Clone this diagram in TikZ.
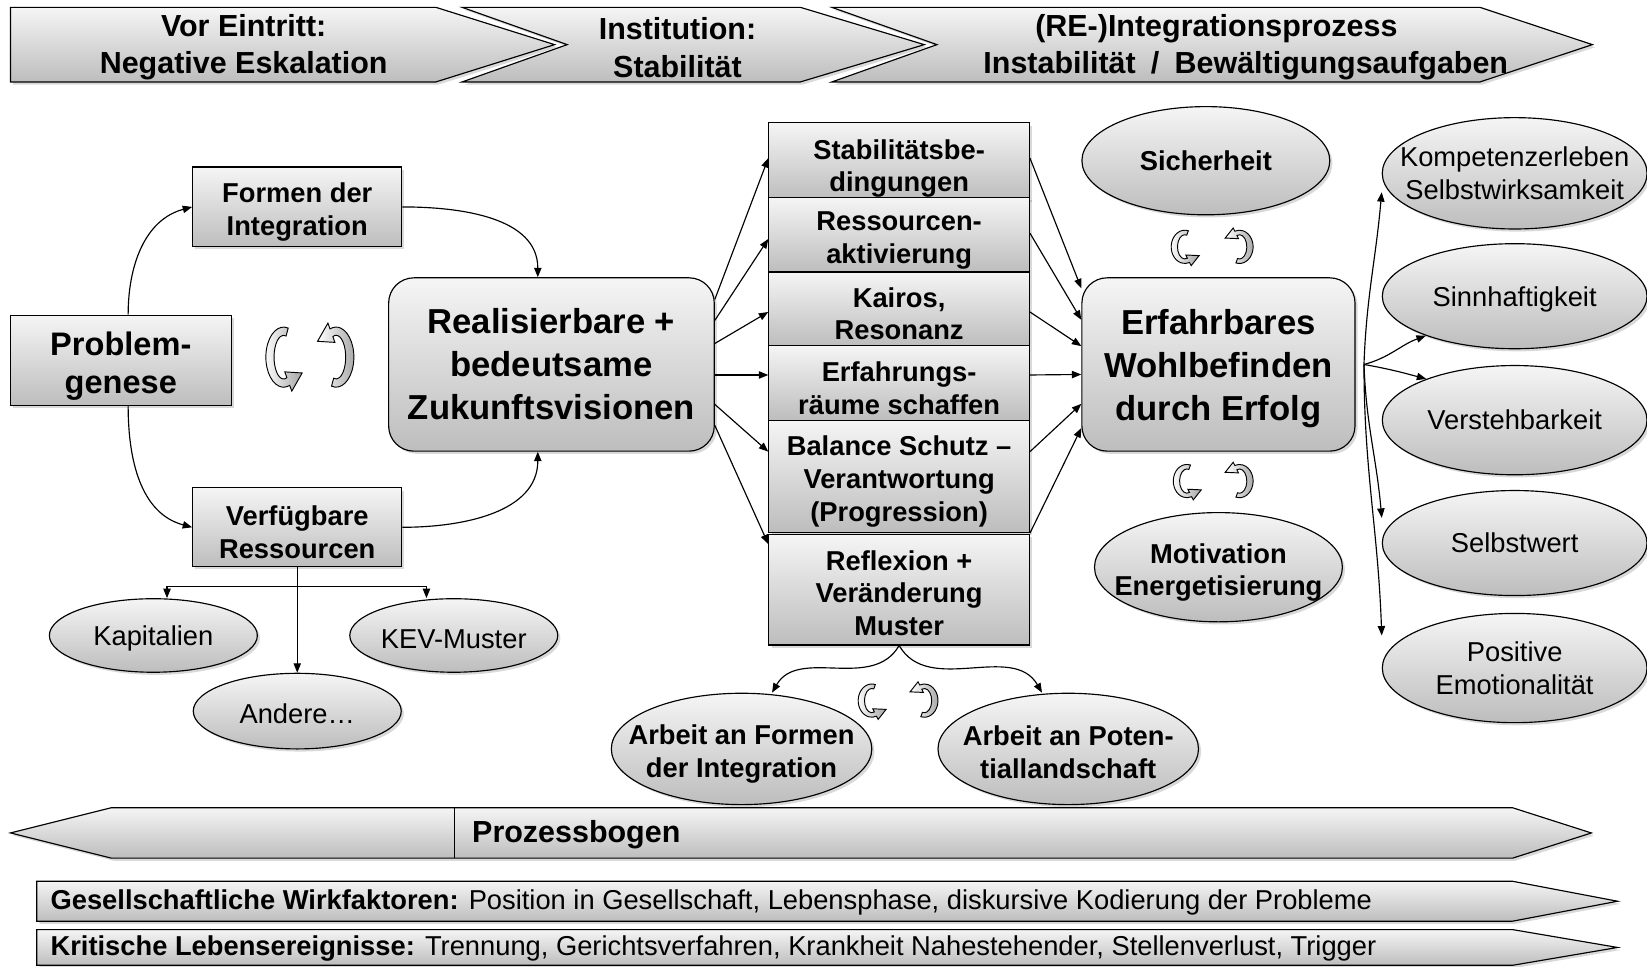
\documentclass[tikz,border=0pt]{standalone}
\usepackage{fontspec}
\setmainfont{Liberation Sans}
\usepackage{tikz}
\usetikzlibrary{shapes, arrows.meta, shadows}
\definecolor{shtop}{HTML}{F5F5F5}
\definecolor{shbot}{HTML}{BDBDBD}
\newcommand\hoch[1][1.1em]{\rule{0pt}{#1}}

\begin{document}
\begin{tikzpicture}[x=1pt, y=1pt,
    grayfill/.style={top color=shtop, bottom color=shbot},
    shadowed/.style={drop shadow={opacity=0.3, shadow xshift=2.5pt, shadow yshift=-2.5pt}},
    box/.style={draw, line width=1.1pt, grayfill, shadowed, align=center, inner sep=2pt, font=\fontsize{26}{31}\selectfont\bfseries},
    bigbox/.style={box, rounded corners=24pt, font=\fontsize{33}{41}\selectfont\bfseries},
    oval/.style={box, ellipse, inner xsep=-20pt, inner ysep=0pt, font=\fontsize{26}{32}\selectfont},
    boldoval/.style={oval, font=\fontsize{26}{31}\selectfont\bfseries},
    chev/.style={draw, line width=1.1pt, grayfill, shadowed},
    headtext/.style={align=center, font=\fontsize{29}{36}\selectfont\bfseries},
    bartext/.style={anchor=west, inner sep=0pt, font=\fontsize{26}{30}\selectfont},
    link/.style={-{Triangle[length=9pt, width=7pt]}, line width=1.1pt},
    twolink/.style={{Triangle[length=9pt, width=7pt]}-{Triangle[length=9pt, width=7pt]}, line width=1.1pt},
    swirl/.pic={
      \draw[line width=0.9pt, left color=white, right color=gray!70]
        (75:13 and 22) arc[start angle=75, end angle=290, x radius=13, y radius=22]
        -- (6,-24.9) -- (13.6,-11.6) -- (0.9,-10.8)
        -- (290:7 and 16) arc[start angle=290, end angle=75, x radius=7, y radius=16] -- cycle;
    }]
    \useasboundingbox (0,0) rectangle (1568,-920);

    \draw[chev] (10,-7) -- (415,-7) -- (528,-42.5) -- (415,-78) -- (10,-78) -- cycle;
    \draw[chev] (440,-7) -- (762,-7) -- (880,-42.5) -- (762,-78) -- (440,-78) -- (540,-42.5) -- cycle;
    \draw[chev] (792,-7) -- (1409,-7) -- (1516,-42.5) -- (1409,-78) -- (792,-78) -- (892,-42.5) -- cycle;
    \node (h1) at (232,-45) [headtext] {Vor Eintritt:\\Negative Eskalation};
    \node (h2) at (645,-45) [headtext] {Institution:\\Stabilität};
    \node (h3) at (1186,-45) [headtext] {(RE-)Integrationsprozess\hspace*{56pt}\\Instabilität\enspace/\enspace Bewältigungsaufgaben};

    \node (prob) at (115,-343) [box, minimum width=210pt, minimum height=86pt, font=\fontsize{31}{36}\selectfont\bfseries] {\hoch Problem-\\genese};
    \node (form) at (283,-197) [box, minimum width=199pt, minimum height=76pt] {\hoch Formen der\\Integration};
    \node (verf) at (283,-502) [box, minimum width=199pt, minimum height=75pt] {\hoch Verfügbare\\Ressourcen};
    \node (real) at (525,-347) [bigbox, minimum width=310pt, minimum height=165pt] {Realisierbare +\\bedeutsame\\Zukunftsvisionen};
    \draw[link] ([xshift=7pt]prob.north) to[out=90, in=195] (form.west);
    \draw[link] ([xshift=7pt]prob.south) to[out=-90, in=165] (verf.west);
    \draw[link] (form.east) to[out=0, in=90] ([xshift=-13pt]real.north);
    \draw[link] (verf.east) to[out=0, in=-90] ([xshift=-13pt]real.south);
    \pic[scale=1.3] at (270,-340) {swirl};
    \pic[scale=1.3, rotate=180] at (320,-340) {swirl};

    \node (kapi) at (146,-605) [oval, minimum width=198pt, minimum height=70pt] {\hoch[0.95em]Kapitalien};
    \node (kev) at (432,-605) [oval, minimum width=198pt, minimum height=70pt] {\hoch[0.95em]KEV-Muster};
    \node (ande) at (283,-677) [oval, minimum width=198pt, minimum height=72pt] {\hoch[0.95em]Andere…};
    \draw[link] (verf.south) -- (ande.north);
    \draw[twolink] ([xshift=13pt]kapi.north) |- ([yshift=-18pt]verf.south) -| ([xshift=-26pt]kev.north);

    \node (st1) at (856,-153.5) [box, minimum width=248pt, minimum height=69pt] {\hoch[1.25em]Stabilitätsbe-\\dingungen};
    \node (st2) at (856,-223.5) [box, minimum width=248pt, minimum height=71pt] {\hoch Ressourcen-\\aktivierung};
    \node (st3) at (856,-294) [box, minimum width=248pt, minimum height=70pt] {\hoch Kairos,\\Resonanz};
    \node (st4) at (856,-364.5) [box, minimum width=248pt, minimum height=71pt] {\hoch Erfahrungs-\\räume schaffen};
    \node (st5) at (856,-453.5) [box, minimum width=248pt, minimum height=107pt] {\hoch Balance Schutz –\\Verantwortung\\(Progression)};
    \node (st6) at (856,-561.5) [box, minimum width=248pt, minimum height=105pt] {\hoch[0.95em]Reflexion +\\Veränderung\\Muster};
    \draw[link] ([yshift=62pt]real.east) -- ([yshift=3pt]st1.west);
    \draw[link] ([yshift=42pt]real.east) -- ([yshift=-4pt]st2.west);
    \draw[link] ([yshift=20pt]real.east) -- ([yshift=-3pt]st3.west);
    \draw[link] ([yshift=-10pt]real.east) -- ([yshift=7.5pt]st4.west);
    \draw[link] ([yshift=-38pt]real.east) -- ([yshift=23.5pt]st5.west);
    \draw[link] ([yshift=-58pt]real.east) -- ([yshift=43.5pt]st6.west);

    \node (erf) at (1160,-347) [bigbox, minimum width=260pt, minimum height=165pt] {\hoch[0.98em]Erfahrbares\\Wohlbefinden\\durch Erfolg};
    \node (sich) at (1148,-153) [boldoval, minimum width=236pt, minimum height=103pt] {Sicherheit};
    \node (moti) at (1160,-540) [boldoval, minimum width=236pt, minimum height=104pt] {\hoch Motivation\\Energetisierung};
    \pic[xscale=1, yscale=0.72] at (1128,-235) {swirl};
    \pic[xscale=1, yscale=0.72, rotate=180] at (1180,-235) {swirl};
    \pic[xscale=1, yscale=0.72] at (1130,-458) {swirl};
    \pic[xscale=1, yscale=0.72, rotate=180] at (1180,-458) {swirl};
    \draw[link] ([yshift=3pt]st1.east) -- ([yshift=72.5pt]erf.west);
    \draw[link] ([yshift=1.5pt]st2.east) -- ([yshift=42.5pt]erf.west);
    \draw[link] ([yshift=-3pt]st3.east) -- ([yshift=17.5pt]erf.west);
    \draw[link] ([yshift=7.5pt]st4.east) -- ([yshift=-9.5pt]erf.west);
    \draw[link] ([yshift=23.5pt]st5.east) -- ([yshift=-37.5pt]erf.west);
    \draw[link] (st5.south east) -- ([yshift=-60.5pt]erf.west);

    \node (komp) at (1442,-165) [oval, minimum width=252pt, minimum height=106pt] {Kompetenzerleben\\Selbstwirksamkeit};
    \node (sinn) at (1442,-282) [oval, minimum width=252pt, minimum height=100pt] {\hoch[0.95em]Sinnhaftigkeit};
    \node (vers) at (1442,-400) [oval, minimum width=252pt, minimum height=104pt] {Verstehbarkeit};
    \node (selb) at (1442,-517) [oval, minimum width=252pt, minimum height=100pt] {Selbstwert};
    \node (posi) at (1442,-636) [oval, minimum width=252pt, minimum height=104pt] {Positive\\Emotionalität};
    \coordinate (fan) at ([xshift=8pt]erf.east);
    \draw[link] (fan) to[out=88, in=-95] ([yshift=-18pt]komp.west);
    \draw[link] (fan) to[out=15, in=200] (sinn.-156);
    \draw[link] (fan) to[out=-10, in=165] (vers.155);
    \draw[link] (fan) to[out=-88, in=95] ([yshift=24pt]selb.west);
    \draw[link] (fan) to[out=-90, in=92] ([yshift=31pt]posi.west);

    \node (arbA) at (706,-713) [boldoval, minimum width=248pt, minimum height=106pt] {\hoch Arbeit an Formen\\der Integration};
    \node (arbB) at (1017,-713) [boldoval, minimum width=248pt, minimum height=106pt] {\hoch[0.95em]Arbeit an Poten-\\tiallandschaft};
    \draw[link] (st6.south) to[out=-120, in=60] ([xshift=29pt]arbA.north);
    \draw[link] (st6.south) to[out=-60, in=120] ([xshift=-25pt]arbB.north);
    \pic[xscale=1, yscale=0.72] at (830,-667) {swirl};
    \pic[xscale=1, yscale=0.72, rotate=180] at (880,-667) {swirl};

    \draw[chev] (10,-793) -- (106,-769) -- (1440,-769) -- (1515,-793) -- (1440,-817) -- (106,-817) -- cycle;
    \draw[line width=1.1pt] (433,-769) -- (433,-817);
    \node (proz) at (446,-795) [anchor=west, font=\fontsize{29}{34}\selectfont\bfseries] {Prozessbogen};

    \draw[chev] (35,-839) -- (1440,-839) -- (1540,-858) -- (1440,-877) -- (35,-877) -- cycle;
    \draw[chev] (35,-885) -- (1440,-885) -- (1540,-902) -- (1440,-919) -- (35,-919) -- cycle;
    \node (wirk) at (48,-859) [bartext] {\textbf{Gesellschaftliche Wirkfaktoren:} Position in Gesellschaft, Lebensphase, diskursive Kodierung der Probleme};
    \node (krit) at (48,-903) [bartext] {\textbf{Kritische Lebensereignisse:} Trennung, Gerichtsverfahren, Krankheit Nahestehender, Stellenverlust, Trigger};
\end{tikzpicture}
\end{document}
